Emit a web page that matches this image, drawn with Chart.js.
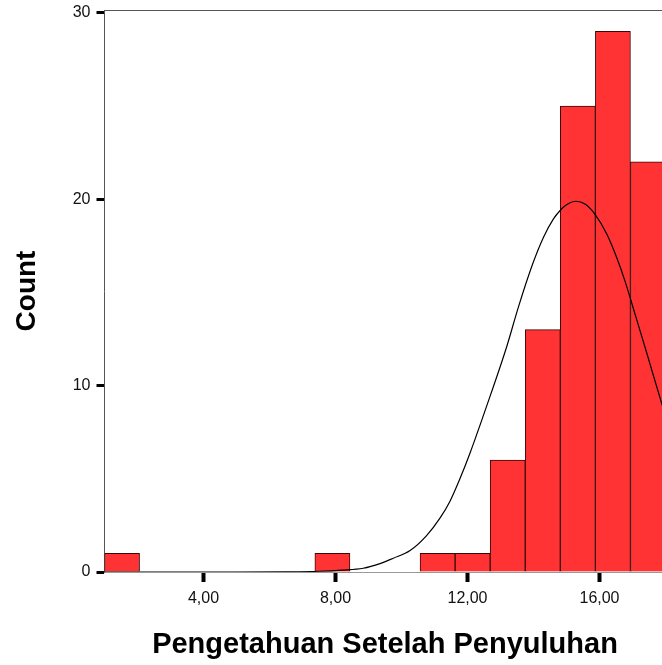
<!DOCTYPE html>
<html>
<head>
<meta charset="utf-8">
<title>Pengetahuan Setelah Penyuluhan</title>
<script src="https://cdn.jsdelivr.net/npm/chart.js@4/dist/chart.umd.min.js"></script>
<style>
  html, body { margin: 0; padding: 0; background: #fff; overflow: hidden; }
  #wrap { width: 672px; height: 665px; }
</style>
</head>
<body>
<div id="wrap"><canvas id="hist" width="672" height="665"></canvas></div>
<script>
// Histogram bins: 16 equal bins from 1 to 18
const binStart = 1;
const binWidth = 1.0625;
const binCounts = [1, 0, 0, 0, 0, 0, 1, 0, 0, 1, 1, 6, 13, 25, 29, 22];

// Fitted normal curve, sampled along the score axis
const curveX = [1, 3, 5, 6.5, 7.5, 8.2, 8.84, 9.35, 9.75, 10.26, 10.76, 11.17, 11.47, 11.77,
                12.08, 12.58, 13.19, 13.54, 13.99, 14.3, 14.6, 14.8, 15.0, 15.29, 15.56, 15.86,
                16.22, 16.52, 16.77, 17.1, 17.43, 17.88, 18];
const curveY = [0, 0, 0, 0.01, 0.04, 0.1, 0.2, 0.45, 0.74, 1.15, 1.95, 2.9, 3.8, 5.0,
                6.4, 8.9, 12.1, 14.2, 16.6, 17.95, 18.93, 19.38, 19.7, 19.89, 19.74, 19.2,
                18.13, 16.87, 15.62, 13.7, 11.76, 9.07, 8.4];

// Axis ticks
const xTickValues = [4, 8, 12, 16];
const xTickLabels = ['4,00', '8,00', '12,00', '16,00'];
const yTickValues = [0, 10, 20, 30];
const yTickLabels = ['0', '10', '20', '30'];

const xTitle = 'Pengetahuan Setelah Penyuluhan';
const yTitle = 'Count';

const barPoints = binCounts.map((c, i) => ({ x: binStart + binWidth * (i + 0.5), y: c }));
const curvePoints = curveX.map((x, i) => ({ x: x, y: curveY[i] }));

const FONT = "'Liberation Sans', Arial, Helvetica, sans-serif";

// Thin frame line along the top of the plot area
const framePlugin = {
  id: 'frame',
  beforeDatasetsDraw(chart) {
    const { ctx, chartArea } = chart;
    ctx.save();
    ctx.strokeStyle = '#555';
    ctx.lineWidth = 1;
    ctx.beginPath();
    ctx.moveTo(chartArea.left, chartArea.top + 0.5);
    ctx.lineTo(chartArea.right, chartArea.top + 0.5);
    ctx.moveTo(chartArea.right - 0.5, chartArea.top);
    ctx.lineTo(chartArea.right - 0.5, chartArea.bottom);
    ctx.stroke();
    ctx.restore();
  }
};

new Chart(document.getElementById('hist'), {
  type: 'bar',
  data: {
    datasets: [
      {
        type: 'line',
        data: curvePoints,
        borderColor: '#000',
        borderWidth: 1.2,
        pointRadius: 0,
        cubicInterpolationMode: 'monotone',
        fill: false,
        order: 0
      },
      {
        type: 'bar',
        data: barPoints,
        backgroundColor: '#ff3333',
        borderColor: '#3a0808',
        borderWidth: 1,
        barPercentage: 1,
        categoryPercentage: 1,
        order: 1
      }
    ]
  },
  options: {
    responsive: false,
    animation: false,
    devicePixelRatio: 1,
    layout: { padding: { left: 0, right: 6.5, top: 10, bottom: 0 } },
    plugins: { legend: { display: false }, tooltip: { enabled: false } },
    scales: {
      x: {
        type: 'linear',
        min: 1,
        max: 18,
        offset: false,
        afterFit(scale) { scale.height = 93; },
        afterBuildTicks(scale) { scale.ticks = xTickValues.map(v => ({ value: v })); },
        grid: {
          offset: false,
          drawOnChartArea: false,
          drawTicks: true,
          tickLength: 10,
          tickWidth: 4,
          tickColor: '#000'
        },
        border: { display: true, color: '#999', width: 1 },
        ticks: {
          padding: 7,
          maxRotation: 0,
          autoSkip: false,
          color: '#111',
          font: { family: FONT, size: 16 },
          callback(value) {
            const i = xTickValues.indexOf(value);
            return i >= 0 ? xTickLabels[i] : '';
          }
        },
        title: {
          display: true,
          text: xTitle,
          color: '#000',
          font: { family: FONT, size: 29, weight: 'bold' },
          padding: { top: 3, bottom: 3 }
        }
      },
      y: {
        min: 0,
        max: 30.15,
        afterFit(scale) {
          scale.width = 104.5;
          scale.paddingTop = 0;
          scale.paddingBottom = 0;
        },
        afterBuildTicks(scale) { scale.ticks = yTickValues.map(v => ({ value: v })); },
        grid: {
          drawOnChartArea: false,
          drawTicks: true,
          tickLength: 8,
          tickWidth: 3,
          tickColor: '#000'
        },
        border: { display: true, color: '#555', width: 1 },
        ticks: {
          padding: 6,
          color: '#111',
          font: { family: FONT, size: 16 },
          callback(value) {
            const i = yTickValues.indexOf(value);
            return i >= 0 ? yTickLabels[i] : '';
          }
        },
        title: {
          display: true,
          text: yTitle,
          color: '#000',
          font: { family: FONT, size: 28, weight: 'bold' },
          padding: { top: 10, bottom: 10 }
        }
      }
    }
  },
  plugins: [framePlugin]
});
</script>
</body>
</html>
